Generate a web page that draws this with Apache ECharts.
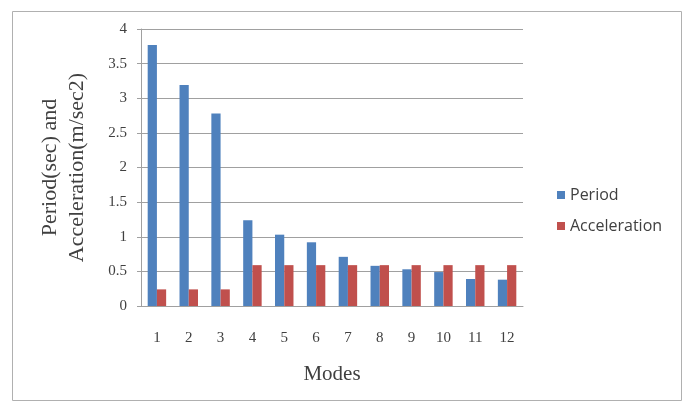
<!DOCTYPE html>
<html>
<head>
<meta charset="utf-8">
<script src="https://cdn.jsdelivr.net/npm/echarts@6/dist/echarts.min.js"></script>
<style>html,body{margin:0;padding:0;background:#fff}#c{width:683px;height:403px}</style>
</head>
<body>
<div id="c"></div>
<script>
var modes = ['1','2','3','4','5','6','7','8','9','10','11','12'];
var period = [3.77, 3.19, 2.78, 1.24, 1.03, 0.92, 0.71, 0.58, 0.53, 0.49, 0.39, 0.38];
var acceleration = [0.24, 0.24, 0.24, 0.59, 0.59, 0.59, 0.59, 0.59, 0.59, 0.59, 0.59, 0.59];
var yTicks = [0, 0.5, 1, 1.5, 2, 2.5, 3, 3.5, 4];

var chart = echarts.init(document.getElementById('c'));
var serif = '"Liberation Serif", "DejaVu Serif", serif';
chart.setOption({
  animation: false,
  backgroundColor: '#fff',
  graphic: [{
    type: 'rect', left: 10, top: 9,
    shape: {width: 669, height: 389},
    style: {fill: 'none', stroke: '#b0b0b0', lineWidth: 1}, silent: true
  }],
  grid: {left: 141, right: 160, top: 29, bottom: 97},
  legend: {
    orient: 'vertical', left: 552, top: 182, itemWidth: 8, itemHeight: 8, itemGap: 15,
    icon: 'rect',
    textStyle: {fontFamily: '"Open Sans", "Liberation Sans", sans-serif', fontSize: 16, color: '#404040'},
    data: ['Period', 'Acceleration']
  },
  xAxis: {
    type: 'category', data: modes,
    name: 'Modes', nameLocation: 'middle', nameGap: 58,
    nameTextStyle: {fontFamily: serif, fontSize: 21, color: '#404040'},
    axisLine: {lineStyle: {color: '#a0a0a0'}},
    axisTick: {show: false},
    axisLabel: {fontFamily: serif, fontSize: 15, color: '#404040', margin: 25}
  },
  yAxis: {
    type: 'value', min: yTicks[0], max: yTicks[yTicks.length - 1], interval: 0.5,
    name: 'Period(sec) and\nAcceleration(m/sec2)', nameLocation: 'middle', nameGap: 50,
    nameTextStyle: {fontFamily: serif, fontSize: 22, color: '#404040', lineHeight: 27},
    axisLine: {show: true, lineStyle: {color: '#a0a0a0'}},
    axisTick: {show: true, length: 4, lineStyle: {color: '#a0a0a0'}},
    axisLabel: {fontFamily: serif, fontSize: 15, color: '#404040', margin: 14},
    splitLine: {lineStyle: {color: '#a0a0a0'}}
  },
  series: [
    {name: 'Period', type: 'bar', data: period, barGap: '0%', barCategoryGap: '42%',
     itemStyle: {color: '#4F81BD'}},
    {name: 'Acceleration', type: 'bar', data: acceleration,
     itemStyle: {color: '#C0504D'}}
  ]
});
</script>
</body>
</html>
